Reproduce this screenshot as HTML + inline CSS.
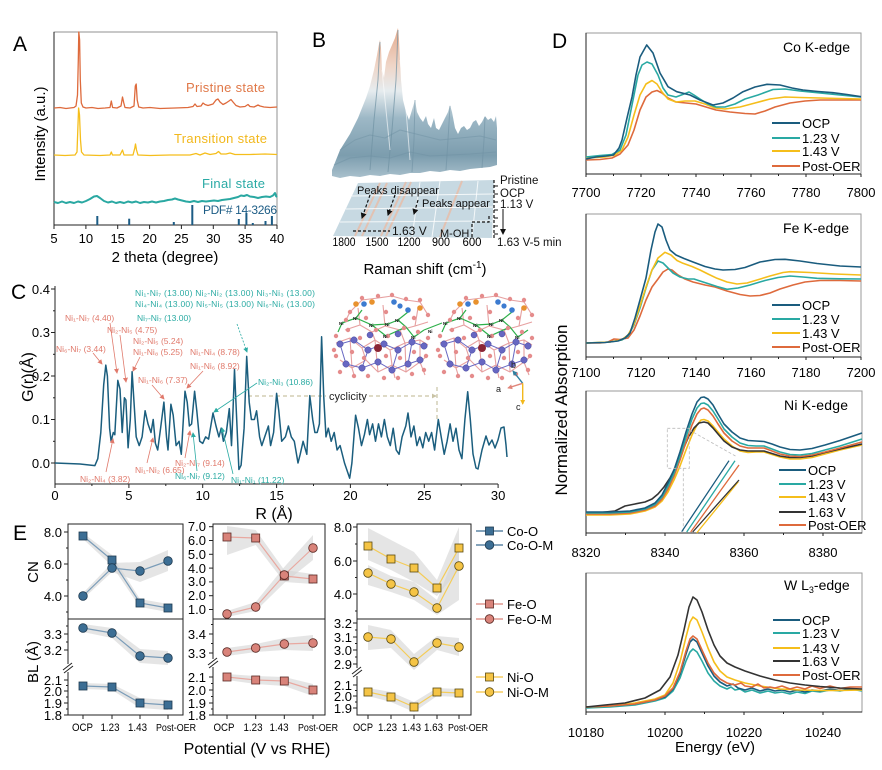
<!DOCTYPE html>
<html><head><meta charset="utf-8">
<style>
html,body{margin:0;padding:0;background:#fff;}
svg{display:block;font-family:"Liberation Sans",Arial,sans-serif;}
</style></head><body>
<svg width="882" height="770" viewBox="0 0 882 770" xmlns="http://www.w3.org/2000/svg">
<defs>
 <linearGradient id="gB" x1="0" y1="28" x2="0" y2="178" gradientUnits="userSpaceOnUse">
  <stop offset="0" stop-color="#E3A98C"/>
  <stop offset="0.25" stop-color="#EFD5C7"/>
  <stop offset="0.42" stop-color="#E6ECEF"/>
  <stop offset="0.6" stop-color="#9DB8C6"/>
  <stop offset="0.85" stop-color="#7C9DAE"/>
  <stop offset="1" stop-color="#A9C0CC"/>
 </linearGradient>
 <marker id="mS" viewBox="0 0 6 6" refX="5" refY="3" markerWidth="5" markerHeight="5" markerUnits="userSpaceOnUse" orient="auto"><path d="M0,0 L6,3 L0,6 z" fill="#E0796B"/></marker>
 <marker id="mT" viewBox="0 0 6 6" refX="5" refY="3" markerWidth="5" markerHeight="5" markerUnits="userSpaceOnUse" orient="auto"><path d="M0,0 L6,3 L0,6 z" fill="#2AABA3"/></marker>
 <marker id="mG" viewBox="0 0 6 6" refX="5" refY="3" markerWidth="5" markerHeight="5" markerUnits="userSpaceOnUse" orient="auto"><path d="M0,0 L6,3 L0,6 z" fill="#C9C3A5"/></marker>
 <marker id="mK" viewBox="0 0 6 6" refX="5" refY="3" markerWidth="6" markerHeight="6" markerUnits="userSpaceOnUse" orient="auto"><path d="M0,0 L6,3 L0,6 z" fill="#111"/></marker>
 <marker id="mb" viewBox="0 0 6 6" refX="5" refY="3" markerWidth="5" markerHeight="5" markerUnits="userSpaceOnUse" orient="auto"><path d="M0,0 L6,3 L0,6 z" fill="#2E7FA0"/></marker>
 <marker id="ma" viewBox="0 0 6 6" refX="5" refY="3" markerWidth="5" markerHeight="5" markerUnits="userSpaceOnUse" orient="auto"><path d="M0,0 L6,3 L0,6 z" fill="#E0857A"/></marker>
 <marker id="mc" viewBox="0 0 6 6" refX="5" refY="3" markerWidth="5" markerHeight="5" markerUnits="userSpaceOnUse" orient="auto"><path d="M0,0 L6,3 L0,6 z" fill="#F2B81C"/></marker>
</defs>
<rect width="882" height="770" fill="#fff"/>

<!-- ================= PANEL A ================= -->
<text x="13" y="51" font-size="21">A</text>
<rect x="54" y="32" width="223" height="193" fill="none" stroke="#777" stroke-width="0.8"/>
<line x1="54" y1="225" x2="277" y2="225" stroke="#222" stroke-width="1"/>
<line x1="54" y1="32" x2="54" y2="225" stroke="#222" stroke-width="1"/>
<g stroke="#222" stroke-width="1">
<line x1="54" y1="225" x2="54" y2="229"/><line x1="85.9" y1="225" x2="85.9" y2="229"/><line x1="117.7" y1="225" x2="117.7" y2="229"/><line x1="149.6" y1="225" x2="149.6" y2="229"/><line x1="181.4" y1="225" x2="181.4" y2="229"/><line x1="213.3" y1="225" x2="213.3" y2="229"/><line x1="245.1" y1="225" x2="245.1" y2="229"/><line x1="277" y1="225" x2="277" y2="229"/>
</g>
<g font-size="13" text-anchor="middle">
<text x="54" y="243">5</text><text x="85.9" y="243">10</text><text x="117.7" y="243">15</text><text x="149.6" y="243">20</text><text x="181.4" y="243">25</text><text x="213.3" y="243">30</text><text x="245.1" y="243">35</text><text x="277" y="243">40</text>
</g>
<text x="165" y="262" font-size="15" text-anchor="middle">2 theta (degree)</text>
<text transform="translate(45,134) rotate(-90)" font-size="15" text-anchor="middle">Intensity (a.u.)</text>
<polyline fill="none" stroke="#DE6A3C" stroke-width="1.3" stroke-linejoin="round" points="54,108 60,107.5 66,108.5 70,108 74,107.5 76,106 77.5,95 78.3,60 78.8,32 79.6,40 80.3,80 81.3,103 83,107 86,108 92,107.5 98,108.5 105,108 110,107.5 111.3,101 112.6,107.5 117,108 121,106 122.5,97 123.8,103 125,107.5 130,108 134,106 135.3,86 136.2,84 137.2,100 138.7,107 143,108 150,107.5 160,108.5 175,108 188,107.5 193,106.5 195,104 197,106.5 201,106 203,103 205,104.5 208,105.5 213,104 216,100 218,99 220,102 223,104.5 226,103 229,101 231,99.5 233,102 236,105.5 240,107 245,106.5 248,104.5 250,106.5 254,107 258,105 260,106 264,107 270,107.5 277,107"/>
<polyline fill="none" stroke="#F5BE1B" stroke-width="1.3" stroke-linejoin="round" points="54,155 65,155.5 75,155 77,152 77.8,130 78.6,108 79.5,115 80.5,140 81.5,152 84,155 100,155.5 110,155 111.3,152 112.5,155 120,155 122.5,150 124,155 133,155 134.8,148 135.5,144 136.5,150 138,155 150,155.5 170,155 190,155 196,153.5 200,155 205,153 210,154.5 216,153.5 218.5,151.5 221,154 226,154 230,153 235,154.5 250,154.5 265,154 277,154.5"/>
<polyline fill="none" stroke="#2AA8A2" stroke-width="2" stroke-linejoin="round" points="54,202 58,203 62,201.5 66,203 70,202 74,203 78,201.5 82,202.5 86,201 90,199 94,196.5 97,196 100,198 104,201 108,202.5 112,201.5 116,203 120,202 124,203 128,201.5 132,202.5 136,201.5 140,203 144,202 148,202.5 152,201.5 156,202.5 160,201.5 164,201 168,200 172,199.5 175,198.5 178,199.5 182,200.5 186,201.5 190,202 194,201 198,202 202,201 206,201.5 210,201 214,200.5 218,201 222,200 226,199.5 230,199 234,198 238,197 241,195.5 244,196 247,195 250,196.5 254,197 258,198 262,197 266,196.5 270,197 273,195.5 275,193 276,196 277,197"/>
<g stroke="#1C5C85" stroke-width="2">
<line x1="97.3" y1="225" x2="97.3" y2="216"/><line x1="129.2" y1="225" x2="129.2" y2="218.7"/><line x1="173.8" y1="225" x2="173.8" y2="222"/><line x1="192.3" y1="225" x2="192.3" y2="205"/><line x1="238.8" y1="225" x2="238.8" y2="219"/><line x1="246.4" y1="225" x2="246.4" y2="213"/><line x1="252.8" y1="225" x2="252.8" y2="223"/><line x1="265.5" y1="225" x2="265.5" y2="221"/><line x1="271.9" y1="225" x2="271.9" y2="216"/>
</g>
<text x="186" y="92" font-size="13" fill="#E07848" textLength="79">Pristine state</text>
<text x="174" y="143" font-size="13" fill="#F2B81C" textLength="93">Transition state</text>
<text x="202" y="188" font-size="13" fill="#2AAAA5" textLength="63">Final state</text>
<text x="203" y="214" font-size="12" fill="#1C5C85" textLength="74">PDF# 14-3266</text>

<!-- ================= PANEL B ================= -->
<text x="312" y="47" font-size="21">B</text>
<path fill="url(#gB)" d="M332,176 L332,170 L336,160 L340,150 L345,142 L350,134 L354,126 L358,118 L362,108 L366,98 L370,86 L374,70 L377,55 L379,44 L380,40 L381,48 L382,70 L384,78 L386,62 L389,52 L392,45 L395,38 L397,31 L398,28 L399,40 L401,80 L403,100 L406,112 L409,120 L412,110 L415,100 L417,112 L420,118 L423,122 L426,116 L428,124 L431,128 L434,118 L436,128 L439,130 L442,124 L445,118 L448,112 L450,105 L452,112 L455,128 L458,134 L461,128 L464,126 L467,130 L470,128 L473,122 L476,120 L479,126 L482,122 L485,116 L488,120 L491,118 L494,122 L496,116 L497,128 L497,165 L490,167 L480,168 L470,169 L460,171 L450,170 L440,172 L430,171 L420,173 L410,173 L400,175 L390,174 L380,176 L370,175 L360,177 L350,176 L340,178 Z"/>
<g fill="none" stroke-width="1" stroke-linejoin="round">
<polyline stroke="#6F91A3" stroke-opacity="0.7" points="380,42 378,80 374,120 370,170"/>
<polyline stroke="#6F91A3" stroke-opacity="0.7" points="398,30 396,80 392,130 388,172"/>
<polyline stroke="#FFFFFF" stroke-opacity="0.6" points="382,70 386,110 390,150"/>
<polyline stroke="#FFFFFF" stroke-opacity="0.6" points="400,60 406,110 410,160"/>
<polyline stroke="#6F91A3" stroke-opacity="0.6" points="415,100 414,140 412,172"/>
<polyline stroke="#6F91A3" stroke-opacity="0.6" points="450,106 448,140 446,170"/>
<polyline stroke="#6F91A3" stroke-opacity="0.6" points="485,117 484,140 482,168"/>
<polyline stroke="#6F91A3" stroke-opacity="0.5" points="340,150 355,140 370,135 385,138 400,130 420,135 440,140 460,138 480,136 496,140"/>
<polyline stroke="#6F91A3" stroke-opacity="0.5" points="334,165 350,158 370,156 390,158 410,152 430,156 450,155 470,154 496,152"/>
</g>
<polygon points="358,183 494,180 492,238 333,236" fill="#C7D9E2"/>
<g stroke="#E8BCA6" stroke-width="2" fill="none" stroke-opacity="0.8">
<line x1="380" y1="183" x2="355" y2="236"/><line x1="387" y1="183" x2="362" y2="236"/><line x1="406" y1="182" x2="381" y2="236"/><line x1="411" y1="182" x2="386" y2="236"/><line x1="462" y1="181" x2="440" y2="237"/>
</g>
<g stroke="#FFFFFF" stroke-width="1" stroke-opacity="0.8" fill="none">
<line x1="352" y1="196" x2="493" y2="194"/><line x1="346" y1="209" x2="493" y2="207"/><line x1="340" y1="222" x2="492" y2="221"/>
<line x1="420" y1="182" x2="412" y2="237"/><line x1="440" y1="181" x2="432" y2="237"/><line x1="478" y1="181" x2="472" y2="237"/>
</g>
<g stroke="#111" stroke-width="1.2" stroke-dasharray="3,2" fill="none">
<line x1="370" y1="195" x2="362" y2="218" marker-end="url(#mK)"/>
<line x1="395" y1="195" x2="388" y2="215" marker-end="url(#mK)"/>
<line x1="418" y1="200" x2="414" y2="214" marker-end="url(#mK)"/>
<line x1="353" y1="231" x2="390" y2="231"/>
<polyline points="472,237 472,222 489,222 489,216"/>
<line x1="494" y1="180" x2="494" y2="238"/>
</g>
<g stroke="#111" stroke-width="1">
<line x1="494" y1="186" x2="498" y2="186"/><line x1="494" y1="194" x2="498" y2="194"/><line x1="494" y1="202" x2="498" y2="202"/><line x1="494" y1="210" x2="498" y2="210"/><line x1="494" y1="218" x2="498" y2="218"/><line x1="494" y1="226" x2="498" y2="226"/><line x1="494" y1="234" x2="498" y2="234"/>
<line x1="503" y1="209" x2="503" y2="234" marker-end="url(#mK)"/>
</g>
<g font-size="11" fill="#111">
<text x="357" y="194">Peaks disappear</text>
<text x="422" y="207">Peaks appear</text>
<text x="392" y="235" font-size="12">1.63 V</text>
<text x="440" y="237">M-OH</text>
<text x="500" y="184" font-size="11.5">Pristine</text>
<text x="500" y="197" font-size="11.5">OCP</text>
<text x="500" y="208" font-size="11.5">1.13 V</text>
<text x="497" y="246" font-size="11.5">1.63 V-5 min</text>
</g>
<g font-size="12" text-anchor="middle">
<text x="344" y="246" textLength="23" lengthAdjust="spacingAndGlyphs">1800</text><text x="377" y="246" textLength="23" lengthAdjust="spacingAndGlyphs">1500</text><text x="409" y="246" textLength="23" lengthAdjust="spacingAndGlyphs">1200</text><text x="441" y="246" textLength="18" lengthAdjust="spacingAndGlyphs">900</text><text x="472" y="246" textLength="19" lengthAdjust="spacingAndGlyphs">600</text>
</g>
<text x="425" y="274" font-size="15" text-anchor="middle">Raman shift (cm<tspan font-size="10" dy="-6">-1</tspan><tspan dy="6">)</tspan></text>

<!-- ================= PANEL C ================= -->
<text x="11" y="299" font-size="21">C</text>
<g stroke="#222" stroke-width="1">
<line x1="55" y1="286" x2="55" y2="484"/>
<line x1="55" y1="484" x2="498" y2="484"/>
<line x1="51" y1="289" x2="55" y2="289"/><line x1="51" y1="332.5" x2="55" y2="332.5"/><line x1="51" y1="376" x2="55" y2="376"/><line x1="51" y1="419.5" x2="55" y2="419.5"/><line x1="51" y1="463" x2="55" y2="463"/>
<line x1="53" y1="310.8" x2="55" y2="310.8"/><line x1="53" y1="354.3" x2="55" y2="354.3"/><line x1="53" y1="397.8" x2="55" y2="397.8"/><line x1="53" y1="441.3" x2="55" y2="441.3"/>
<line x1="55" y1="484" x2="55" y2="488"/><line x1="128.9" y1="484" x2="128.9" y2="488"/><line x1="202.7" y1="484" x2="202.7" y2="488"/><line x1="276.6" y1="484" x2="276.6" y2="488"/><line x1="350.4" y1="484" x2="350.4" y2="488"/><line x1="424.3" y1="484" x2="424.3" y2="488"/><line x1="498.1" y1="484" x2="498.1" y2="488"/>
<line x1="91.9" y1="484" x2="91.9" y2="486"/><line x1="165.8" y1="484" x2="165.8" y2="486"/><line x1="239.6" y1="484" x2="239.6" y2="486"/><line x1="313.5" y1="484" x2="313.5" y2="486"/><line x1="387.4" y1="484" x2="387.4" y2="486"/><line x1="461.2" y1="484" x2="461.2" y2="486"/>
</g>
<g font-size="13" text-anchor="end">
<text x="50" y="294">0.4</text><text x="50" y="337">0.3</text><text x="50" y="381">0.2</text><text x="50" y="424">0.1</text><text x="50" y="468">0.0</text>
</g>
<g font-size="13" text-anchor="middle">
<text x="55" y="500">0</text><text x="128.9" y="500">5</text><text x="202.7" y="500">10</text><text x="276.6" y="500">15</text><text x="350.4" y="500">20</text><text x="424.3" y="500">25</text><text x="498.1" y="500">30</text>
</g>
<text x="274" y="519" font-size="16" text-anchor="middle">R (Å)</text>
<text transform="translate(33,377) rotate(-90)" font-size="16" text-anchor="middle">G(r)(Å)</text>
<g stroke="#C9C3A5" stroke-width="1.2" stroke-dasharray="4,3" fill="none">
<line x1="248" y1="396" x2="326" y2="396"/>
<line x1="369" y1="396" x2="436" y2="396" marker-end="url(#mG)"/>
<line x1="437" y1="387" x2="437" y2="420"/>
</g>
<text x="329" y="400" font-size="11" fill="#222">cyclicity</text>
<polyline fill="none" stroke="#1B5E7E" stroke-width="1.5" stroke-linejoin="round" points="55,463 80,464 94.9,465.6 97.8,458.7 100.8,432.5 103.7,384.7 105.8,365.1 107.4,376 109.6,428.2 111.1,441.3 113.3,432.5 114.8,434.7 117.8,380.4 120,389 122.2,432.5 124.4,397.8 125.9,400 128.1,447.8 130.3,419.5 132.1,371.7 134,402.1 136.2,436.9 139.2,445.6 142.1,436.9 145.1,410.8 148,423.9 151,432.5 153.2,419.5 155.4,443.4 157.7,450 160.6,428.2 163.9,402.1 166.5,436.9 168,450 170.9,404.3 173.2,415.2 176.1,445.6 179.1,441.3 181.3,454.3 185,391.2 187.2,402.1 189.4,426 191.6,423.9 194.6,391.2 196.8,410.8 199.7,441.3 202.7,443.4 205.6,436.9 208.6,439.1 213,413 216,426 218.9,436.9 221.2,428.2 223.4,441.3 226.3,432.5 229.3,408.6 231.5,445.6 233,410.8 234.5,369.5 236.7,419.5 238.9,469.5 241.1,465.2 244.1,428.2 246.7,356.4 249.2,402.1 251.4,419.5 254.4,419.5 256.6,410.8 259.6,436.9 261.8,445.6 264.7,436.9 268.4,426 270.6,445.6 273.6,432.5 276.6,393.4 278.8,410.8 281.7,441.3 285.4,436.9 288.4,426 291.3,436.9 294.3,441.3 298,463 300.2,454.3 303.1,441.3 306.8,454.3 309.8,395.6 312.7,419.5 314.9,432.5 317.2,432.5 319.4,423.9 321.6,336.8 323.8,397.8 326,436.9 328.3,428.2 331.2,441.3 334.2,432.5 337.1,450 340.1,445.6 344.5,463 349.7,478.2 351.9,463 355.6,415.2 358.5,428.2 361.5,445.6 364.4,434.7 367.4,419.5 369.6,434.7 372.6,423.9 375.5,441.3 378.5,423.9 381.4,436.9 384.4,419.5 387.3,436.9 390.3,445.6 393.2,428.2 396.2,450 399.1,454.3 402.1,436.9 405.8,426 408,413 411,436.9 413.9,426 416.9,445.6 419.8,436.9 422.8,447.8 425.7,432.5 428.7,441.3 431.6,432.5 434.6,450 438.3,419.5 441.2,436.9 444.2,454.3 447.1,441.3 450.1,423.9 453,441.3 456,428.2 459,450 461.9,458.7 464.9,419.5 467.7,391.7 470.3,419.5 473,454 476,468 478,469 482,450 486,436 489,445 492,440 495,448 498,440 501,428 504,427 506,445 507,457"/>
<g font-size="8.5" fill="#E0796B">
<text x="65" y="321">Ni₁-Ni₇ (4.40)</text>
<text x="107" y="333">Ni₂-Ni₅ (4.75)</text>
<text x="133" y="344">Ni₂-Ni₅ (5.24)</text>
<text x="56" y="352">Ni₆-Ni₇ (3.44)</text>
<text x="133" y="355">Ni₁-Ni₈ (5.25)</text>
<text x="190" y="355">Ni₁-Ni₄ (8.78)</text>
<text x="190" y="369">Ni₁-Ni₆ (8.92)</text>
<text x="138" y="383">Ni₁-Ni₆ (7.37)</text>
<text x="175" y="466">Ni₂-Ni₇ (9.14)</text>
<text x="135" y="473">Ni₁-Ni₂ (6.65)</text>
<text x="80" y="482">Ni₂-Ni₄ (3.82)</text>
</g>
<g font-size="8.5" fill="#2AABA3">
<text x="135" y="296" textLength="180">Ni₁-Ni₇ (13.00) Ni₂-Ni₂ (13.00) Ni₃-Ni₃ (13.00)</text>
<text x="135" y="307" textLength="180">Ni₄-Ni₄ (13.00) Ni₅-Ni₅ (13.00) Ni₆-Ni₆ (13.00)</text>
<text x="137" y="321">Ni₇-Ni₇ (13.00)</text>
<text x="258" y="385">Ni₂-Ni₃ (10.86)</text>
<text x="175" y="479">Ni₆-Ni₇ (9.12)</text>
<text x="231" y="483">Ni₁-Ni₁ (11.22)</text>
</g>
<g stroke="#E0796B" stroke-width="0.8" fill="none">
<line x1="93" y1="353" x2="102" y2="364" marker-end="url(#mS)"/>
<line x1="110" y1="323" x2="117" y2="373" marker-end="url(#mS)"/>
<line x1="120" y1="335" x2="126" y2="382" marker-end="url(#mS)"/>
<line x1="140" y1="357" x2="133" y2="371" marker-end="url(#mS)"/>
<line x1="152" y1="385" x2="164" y2="399" marker-end="url(#mS)"/>
<line x1="203" y1="371" x2="187" y2="388" marker-end="url(#mS)"/>
<line x1="106" y1="472" x2="113" y2="439" marker-end="url(#mS)"/>
<line x1="147" y1="463" x2="153" y2="438" marker-end="url(#mS)"/>
<line x1="185" y1="458" x2="190" y2="431" marker-end="url(#mS)"/>
</g>
<g stroke="#2AABA3" stroke-width="0.8" fill="none">
<line x1="237" y1="324" x2="247" y2="352" stroke-dasharray="2,1.5" marker-end="url(#mT)"/>
<line x1="257" y1="383" x2="214" y2="412" marker-end="url(#mT)"/>
<line x1="197" y1="471" x2="193" y2="433" marker-end="url(#mT)"/>
<line x1="233" y1="474" x2="222" y2="428" marker-end="url(#mT)"/>
</g>
<g id="clu">
<g stroke="#E6A0A0" stroke-width="1.1" fill="none">
<path d="M336,343 L350,338 L362,348 L375,340 L390,350 L405,343 L420,340 L428,345 M340,360 L352,368 L366,360 L378,372 L392,365 L406,372 L420,362 L428,355 M345,330 L360,325 L372,332 L385,326 L400,330 L415,326 L428,322 M350,338 L352,368 M366,360 L362,348 M378,372 L375,340 M392,365 L390,350 M406,372 L405,343 M420,362 L420,340 M360,325 L358,308 M385,326 L383,305 M415,326 L418,308 M372,332 L375,340 M400,330 L405,343 M352,368 L355,378 M392,365 L395,378 M420,362 L425,375 M350,312 L362,300 L378,298 L392,296 L406,300 L420,302 L428,315 M346,320 L350,312"/>
</g>
<g stroke="#6767C2" stroke-width="1" fill="none">
<path d="M340,344 L354,340 L368,350 L384,344 L398,350 L412,342 L424,346 M346,364 L362,368 L378,362 L392,370 L408,364 L420,360 M340,344 L346,364 M368,350 L362,368 M398,350 L392,370 M412,342 L408,364"/>
</g>
<g stroke="#2EB04A" stroke-width="1.2" fill="none">
<path d="M342,323 L356,318 L372,325 L388,324 L398,320 M372,325 L386,336 L406,327 L414,337 M356,318 L362,310 M398,320 L408,312 M414,337 L424,330 M342,323 L338,332 M406,327 L398,320"/>
</g>
<g fill="#6767C2" stroke="#44449A" stroke-width="0.5">
<circle cx="340" cy="344" r="3.2"/><circle cx="354" cy="340" r="3.2"/><circle cx="368" cy="350" r="3.2"/><circle cx="384" cy="344" r="3.2"/><circle cx="398" cy="350" r="3.2"/><circle cx="412" cy="342" r="3.2"/><circle cx="424" cy="346" r="3.2"/><circle cx="346" cy="364" r="3.2"/><circle cx="362" cy="368" r="3.2"/><circle cx="378" cy="362" r="3.2"/><circle cx="392" cy="370" r="3.2"/><circle cx="408" cy="364" r="3.2"/><circle cx="420" cy="360" r="3.2"/><circle cx="370" cy="335" r="3"/><circle cx="398" cy="334" r="3"/>
</g>
<circle cx="378" cy="348" r="4" fill="#8B2535"/>
<g fill="#E58C8C">
<circle cx="336" cy="336" r="2.2"/><circle cx="348" cy="330" r="2.2"/><circle cx="360" cy="338" r="2.2"/><circle cx="376" cy="330" r="2.2"/><circle cx="388" cy="336" r="2.2"/><circle cx="404" cy="328" r="2.2"/><circle cx="418" cy="332" r="2.2"/><circle cx="428" cy="338" r="2.2"/><circle cx="336" cy="356" r="2.2"/><circle cx="352" cy="352" r="2.2"/><circle cx="364" cy="358" r="2.2"/><circle cx="386" cy="356" r="2.2"/><circle cx="400" cy="358" r="2.2"/><circle cx="414" cy="352" r="2.2"/><circle cx="426" cy="356" r="2.2"/><circle cx="340" cy="372" r="2.2"/><circle cx="354" cy="376" r="2.2"/><circle cx="368" cy="376" r="2.2"/><circle cx="384" cy="378" r="2.2"/><circle cx="398" cy="378" r="2.2"/><circle cx="412" cy="374" r="2.2"/><circle cx="424" cy="370" r="2.2"/><circle cx="350" cy="312" r="2.2"/><circle cx="362" cy="298" r="2.2"/><circle cx="378" cy="296" r="2.2"/><circle cx="392" cy="295" r="2.2"/><circle cx="406" cy="299" r="2.2"/><circle cx="420" cy="300" r="2.2"/><circle cx="346" cy="320" r="2.2"/><circle cx="428" cy="315" r="2.2"/><circle cx="334" cy="350" r="2.2"/><circle cx="386" cy="312" r="2.2"/><circle cx="366" cy="318" r="2.2"/><circle cx="414" cy="318" r="2.2"/>
</g>
<g fill="#E8922E"><circle cx="356" cy="304" r="2.8"/><circle cx="372" cy="302" r="2.8"/><circle cx="420" cy="308" r="2.8"/></g>
<g fill="#3C7BD0"><circle cx="364" cy="304" r="2.8"/><circle cx="394" cy="302" r="2.8"/><circle cx="408" cy="310" r="2.8"/><circle cx="400" cy="306" r="2.6"/></g>
<g font-size="4.5" font-weight="bold" fill="#111">
<text x="339" y="325">Ni</text><text x="353" y="320">Ni</text><text x="369" y="327">Ni</text><text x="385" y="326">Ni</text><text x="395" y="322">Ni</text><text x="383" y="338">Ni</text><text x="411" y="339">Ni</text>
</g>
</g>
<use href="#clu" transform="translate(104,0)"/>
<line x1="424" y1="330" x2="442" y2="323" stroke="#2EB04A" stroke-width="1.2"/>
<g font-size="4.5" font-weight="bold" fill="#111"><text x="428" y="333">Ni</text></g>
<line x1="522.7" y1="383.3" x2="513" y2="371" stroke="#2E7FA0" stroke-width="1.4" marker-end="url(#mb)"/>
<line x1="522.7" y1="383.3" x2="508" y2="388" stroke="#E0857A" stroke-width="1.4" marker-end="url(#ma)"/>
<line x1="522.7" y1="383.3" x2="522.7" y2="404" stroke="#F2B81C" stroke-width="1.4" marker-end="url(#mc)"/>
<g font-size="9" fill="#222"><text x="511" y="368">b</text><text x="496" y="392">a</text><text x="516" y="410">c</text></g>

<!-- ================= PANEL D ================= -->
<text x="552" y="48" font-size="21">D</text>
<text transform="translate(567,410) rotate(-90)" font-size="17" text-anchor="middle">Normalized Absorption</text>
<rect x="586" y="33" width="275" height="141" fill="none" stroke="#999" stroke-width="1"/>
<line x1="586" y1="174" x2="861" y2="174" stroke="#222"/>
<line x1="586" y1="33" x2="586" y2="174" stroke="#222"/>
<g stroke="#222"><line x1="586" y1="174" x2="586" y2="177"/><line x1="641" y1="174" x2="641" y2="177"/><line x1="696" y1="174" x2="696" y2="177"/><line x1="751" y1="174" x2="751" y2="177"/><line x1="806" y1="174" x2="806" y2="177"/><line x1="861" y1="174" x2="861" y2="177"/><line x1="613.5" y1="174" x2="613.5" y2="176"/><line x1="668.5" y1="174" x2="668.5" y2="176"/><line x1="723.5" y1="174" x2="723.5" y2="176"/><line x1="778.5" y1="174" x2="778.5" y2="176"/><line x1="833.5" y1="174" x2="833.5" y2="176"/></g>
<g font-size="13" text-anchor="middle"><text x="586" y="197">7700</text><text x="641" y="197">7720</text><text x="696" y="197">7740</text><text x="751" y="197">7760</text><text x="806" y="197">7780</text><text x="861" y="197">7800</text></g>
<text x="783" y="52" font-size="14" textLength="67">Co K-edge</text>
<g fill="none" stroke-width="1.6" stroke-linejoin="round">
<polyline stroke="#DE6A3C" points="586,160 600,159.5 612,158 620,154 628,145 634,130 640,110 646,97 652,92 657,90.5 662,93 668,98 676,102 686,103 696,104 706,107 716,110 730,112 745,113.5 755,114 765,111 775,107 790,103 805,101 820,100 840,100 861,100"/>
<polyline stroke="#F5BE1B" points="586,158 605,157 615,155 622,150 628,137 634,115 640,95 646,84 652,80.5 657,84 662,92 668,99 676,102 685,101 695,101 705,104 715,108 725,109 740,107 755,103 770,99 785,97 800,97.5 820,98 840,98.5 861,99"/>
<polyline stroke="#29A9A3" points="586,157 600,155.5 612,154.5 620,150 626,135 632,105 638,75 642,65 647,62 652,64 658,75 663,88 668,95 676,97 684,94 689,92 694,95 700,99 708,104 716,107 725,107 735,104 745,99 758,95 773,89.5 785,89 800,91 820,93 840,95 861,97"/>
<polyline stroke="#1A5C7E" points="586,159 596,157 606,156 613.5,155 619,148 622,140 627,118 632,97 636,75 640,57 646.7,45 653,53 660,73 668,86.7 676.7,91.7 690,95 700,100 713,105 723,103 733,98 743,91.7 755,87 767,84.3 780,85 792,88 803,90 818,91.5 833,92.7 847,94.5 861,96.7"/>
</g>
<g stroke-width="2"><line x1="772" y1="123" x2="800" y2="123" stroke="#1A5C7E"/><line x1="772" y1="138" x2="800" y2="138" stroke="#29A9A3"/><line x1="772" y1="151" x2="800" y2="151" stroke="#F5BE1B"/><line x1="772" y1="166" x2="800" y2="166" stroke="#DE6A3C"/></g>
<g font-size="13"><text x="802" y="128">OCP</text><text x="802" y="143">1.23 V</text><text x="802" y="156">1.43 V</text><text x="802" y="171">Post-OER</text></g>

<rect x="586" y="214" width="275" height="143" fill="none" stroke="#999" stroke-width="1"/>
<line x1="586" y1="357" x2="861" y2="357" stroke="#222"/>
<line x1="586" y1="214" x2="586" y2="357" stroke="#222"/>
<g stroke="#222"><line x1="586" y1="357" x2="586" y2="360"/><line x1="641" y1="357" x2="641" y2="360"/><line x1="696" y1="357" x2="696" y2="360"/><line x1="751" y1="357" x2="751" y2="360"/><line x1="806" y1="357" x2="806" y2="360"/><line x1="861" y1="357" x2="861" y2="360"/><line x1="613.5" y1="357" x2="613.5" y2="359"/><line x1="668.5" y1="357" x2="668.5" y2="359"/><line x1="723.5" y1="357" x2="723.5" y2="359"/><line x1="778.5" y1="357" x2="778.5" y2="359"/><line x1="833.5" y1="357" x2="833.5" y2="359"/></g>
<g font-size="13" text-anchor="middle"><text x="586" y="377">7100</text><text x="641" y="377">7120</text><text x="696" y="377">7140</text><text x="751" y="377">7160</text><text x="806" y="377">7180</text><text x="861" y="377">7200</text></g>
<text x="783" y="233" font-size="14" textLength="66">Fe K-edge</text>
<g fill="none" stroke-width="1.6" stroke-linejoin="round">
<polyline stroke="#DE6A3C" points="586,343 600,343 608,342 614,339 620,339.5 628,338 634,330 640,316 646,300 652,287 658,279 663,272 668,269 672,270 678,275 685,279 693,282 705,285 715,287 727,291 740,294.5 750,296 760,295.5 770,293 780,289 793,285 805,282 820,280.5 840,280.5 861,281"/>
<polyline stroke="#29A9A3" points="586,343 610,342 622,340 628,336 634,325 640,308 646,288 652,270 658,261 663,263 668,268 673,273 680,277 688,279 694,279 700,281 707,283.3 717,286.5 727,289.3 738,288 750,285 765,280.5 778,277.5 790,276 803,277 817,278.3 840,278.8 861,279"/>
<polyline stroke="#F5BE1B" points="586,343 610,342 622,339.5 628,335 634,324 640,306 646,287 652,270 658,258 665,252.3 671,255 677,260.5 683,263.3 692,266.5 700,270 708,274 717,278.3 727,282 737,284 747,283 757,280 770,276 783,272.5 790,271.7 810,272.5 835,274 861,275"/>
<polyline stroke="#1A5C7E" points="586,343 605,342.5 618,341 625,338 630,333 635,318 640,300 646,278 651,250 655,232 658,224 662,227 666,240 670,250 676,255 684,258.5 693,262 705,266.5 715,269 723,270 735,269.5 745,267.5 760,262 775,259.5 785,259.3 800,261 817,263.5 840,266 861,267"/>
</g>
<g stroke-width="2"><line x1="772" y1="305" x2="800" y2="305" stroke="#1A5C7E"/><line x1="772" y1="319" x2="800" y2="319" stroke="#29A9A3"/><line x1="772" y1="333" x2="800" y2="333" stroke="#F5BE1B"/><line x1="772" y1="347" x2="800" y2="347" stroke="#DE6A3C"/></g>
<g font-size="13"><text x="802" y="310">OCP</text><text x="802" y="324">1.23 V</text><text x="802" y="338">1.43 V</text><text x="802" y="352">Post-OER</text></g>

<rect x="586" y="391" width="276" height="142" fill="none" stroke="#999" stroke-width="1"/>
<line x1="586" y1="533" x2="862" y2="533" stroke="#222"/>
<line x1="586" y1="391" x2="586" y2="533" stroke="#222"/>
<g stroke="#222"><line x1="586" y1="533" x2="586" y2="536"/><line x1="665" y1="533" x2="665" y2="536"/><line x1="744" y1="533" x2="744" y2="536"/><line x1="823" y1="533" x2="823" y2="536"/><line x1="625.5" y1="533" x2="625.5" y2="535"/><line x1="704.5" y1="533" x2="704.5" y2="535"/><line x1="783.5" y1="533" x2="783.5" y2="535"/></g>
<g font-size="13" text-anchor="middle"><text x="586" y="557">8320</text><text x="665" y="557">8340</text><text x="744" y="557">8360</text><text x="823" y="557">8380</text></g>
<text x="784" y="410" font-size="14" textLength="64">Ni K-edge</text>
<g fill="none" stroke-width="1.6" stroke-linejoin="round">
<polyline stroke="#F5BE1B" points="586,515 610,515 630,514 645,511 655,507 662,501 668,492 674,480 680,466 686,450 692,435 697,425 701,420 704,419.5 708,421 713,426 718,432 724,439 732,446 740,451 748,452.5 756,452 764,452 772,454.5 780,457 790,459 800,459 812,457.5 825,454 840,450 862,445"/>
<polyline stroke="#333333" points="586,513 600,512.5 615,511 625,506 635,504 645,502 652,499 658,494 664,487 670,478 676,466 682,452 688,438 694,428 699,423 704,422 708,423 713,428 718,434 724,441 732,447 740,450 748,451 756,451 764,451 772,453.5 780,456 790,457.5 800,457.5 812,456 825,452.5 840,449 862,444"/>
<polyline stroke="#DE6A3C" points="586,514 610,514 630,513 645,510 655,506 662,499 668,489 674,476 680,460 686,442 692,425 697,414 701,409 704,408 708,410 713,416 718,424 724,433 732,441 740,446 748,448 756,448 764,448 772,451 780,454 790,456 800,456.5 812,455 825,452 840,448 862,442"/>
<polyline stroke="#29A9A3" points="586,513 610,513 630,512 645,509 655,504.5 662,497 668,486 674,473 680,456 686,437 692,419 697,408 701,403.5 704,403 708,405 713,411 718,419 724,429 732,437 740,443 748,445.5 756,446 764,446 772,449 780,452 790,454.5 800,455 812,453.5 825,450 840,446 862,439"/>
<polyline stroke="#1A5C7E" points="586,512 610,512 630,511 645,508 655,503 662,495 668,483 674,470 680,452 686,432 692,414 697,402 701,397.5 704,397 708,399 713,405 718,414 724,424 732,432 740,438 748,440.5 756,441 764,441.5 772,444 780,447 790,449.5 800,450 812,448.5 825,445 840,440.5 862,433"/>
</g>
<g fill="none" stroke="#BBBBBB" stroke-width="0.8" stroke-dasharray="3,2">
<rect x="667.3" y="428.3" width="22" height="40"/>
<line x1="689.3" y1="430" x2="736.7" y2="456.7"/>
<line x1="683.3" y1="468.3" x2="683.3" y2="531.7"/>
</g>
<g stroke-width="1.3">
<line x1="681.7" y1="531.7" x2="729" y2="460.7" stroke="#1A5C7E"/>
<line x1="686.7" y1="532" x2="735" y2="460.7" stroke="#29A9A3"/>
<line x1="690.7" y1="532" x2="739" y2="465" stroke="#DE6A3C"/>
<line x1="696.7" y1="533" x2="738.3" y2="481.7" stroke="#F5BE1B"/>
<line x1="692.7" y1="532" x2="739" y2="480" stroke="#333"/>
</g>
<g stroke-width="2"><line x1="779" y1="470" x2="806" y2="470" stroke="#1A5C7E"/><line x1="779" y1="484" x2="806" y2="484" stroke="#29A9A3"/><line x1="779" y1="497" x2="806" y2="497" stroke="#F5BE1B"/><line x1="779" y1="512" x2="806" y2="512" stroke="#333"/><line x1="779" y1="525" x2="806" y2="525" stroke="#DE6A3C"/></g>
<g font-size="13"><text x="808" y="475">OCP</text><text x="808" y="489">1.23 V</text><text x="808" y="502">1.43 V</text><text x="808" y="517">1.63 V</text><text x="808" y="530">Post-OER</text></g>

<rect x="586" y="573" width="276" height="139" fill="none" stroke="#999" stroke-width="1"/>
<line x1="586" y1="712" x2="862" y2="712" stroke="#222"/>
<line x1="586" y1="573" x2="586" y2="712" stroke="#222"/>
<g stroke="#222"><line x1="586" y1="712" x2="586" y2="715"/><line x1="665" y1="712" x2="665" y2="715"/><line x1="744" y1="712" x2="744" y2="715"/><line x1="823" y1="712" x2="823" y2="715"/><line x1="625.5" y1="712" x2="625.5" y2="714"/><line x1="704.5" y1="712" x2="704.5" y2="714"/><line x1="783.5" y1="712" x2="783.5" y2="714"/></g>
<g font-size="13" text-anchor="middle"><text x="586" y="737">10180</text><text x="665" y="737">10200</text><text x="744" y="737">10220</text><text x="823" y="737">10240</text></g>
<text x="715" y="752" font-size="15" text-anchor="middle">Energy (eV)</text>
<text x="784" y="590" font-size="14">W L<tspan font-size="9" dy="3">3</tspan><tspan dy="-3">-edge</tspan></text>
<g fill="none" stroke-width="1.6" stroke-linejoin="round">
<polyline stroke="#29A9A3" points="586,708 610,707 635,705 655,701 665,698 673,691 680,678 686,661 690,652 693,649 697,652 702,661 708,673 714,681 720,686 727,689 731,687 735,690 740,689 745,692 752,690 760,693 768,691 775,693 782,692 790,694 797,692 805,693.5 812,691 820,692 830,690 840,691 850,689 862,691"/>
<polyline stroke="#1A5C7E" points="586,707 610,706 635,704 655,700 665,697 673,689 680,674 686,654 690,642 693,639 697,642 702,653 708,666 714,676 720,682 727,686 733,684 738,688 745,690 752,688 760,691 768,689 775,691 782,690 790,692 797,690 805,692 812,690 820,691 830,689 840,690.5 850,689 862,690"/>
<polyline stroke="#F5BE1B" points="586,707 610,706 635,703 655,699 665,695 673,683 680,662 686,637 690,622 693,617 697,620 702,632 708,648 714,662 720,671 727,677 735,680 745,683 760,686 780,689 800,690 820,690.5 840,690.5 862,690"/>
<polyline stroke="#DE6A3C" points="586,707 610,706 635,704 655,700 665,696 673,688 680,672 686,651 690,639 693,636 697,639 702,650 708,663 714,673 720,679 727,683 735,685 741,683 745,686 752,687 758,684 764,688 770,687 775,688 782,686 790,689 797,687 805,689 812,686 820,688.5 830,686 840,688.5 850,687 862,687"/>
<polyline stroke="#333333" points="586,707 605,705 625,703 645,698 660,690 670,677 678,655 684,630 689,607 693,597 697,600 702,612 708,630 714,645 720,656 727,663 735,667 745,671 760,676 775,680 790,683 805,685 820,686.5 840,688 862,689"/>
</g>
<g stroke-width="2"><line x1="773" y1="620" x2="800" y2="620" stroke="#1A5C7E"/><line x1="773" y1="633" x2="800" y2="633" stroke="#29A9A3"/><line x1="773" y1="648" x2="800" y2="648" stroke="#F5BE1B"/><line x1="773" y1="661" x2="800" y2="661" stroke="#333"/><line x1="773" y1="675" x2="800" y2="675" stroke="#DE6A3C"/></g>
<g font-size="13"><text x="802" y="625">OCP</text><text x="802" y="638">1.23 V</text><text x="802" y="653">1.43 V</text><text x="802" y="666">1.63 V</text><text x="802" y="680">Post-OER</text></g>

<!-- ================= PANEL E ================= -->
<text x="13" y="540" font-size="21">E</text>
<text transform="translate(38,572) rotate(-90)" font-size="15" text-anchor="middle">CN</text>
<text transform="translate(38,662) rotate(-90)" font-size="15" text-anchor="middle">BL (Å)</text>
<text x="257" y="754" font-size="16" text-anchor="middle">Potential (V vs RHE)</text>

<g fill="#D4D4D4" fill-opacity="0.6">
<polygon points="83,533 112,555 140,599 168,604 168,612 140,607 112,566 83,539"/>
<polygon points="83,593 112,563 140,562 168,550 168,571 140,582 112,572 83,599"/>
<polygon points="83,624 112,628 140,649 168,651 168,665 140,663 112,638 83,632"/>
<polygon points="83,683 112,684 140,698 168,700 168,710 140,708 112,690 83,689"/>
<polygon points="227,526 255.7,530 284.3,570 313,574 313,584 284.3,582 255.7,545 227,555"/>
<polygon points="227,611 255.7,602 284.3,567 313,535 313,560 284.3,583 255.7,611 227,617"/>
<polygon points="227,648 255.7,644 284.3,638 313,635 313,651 284.3,650 255.7,652 227,656"/>
<polygon points="227,674 255.7,676 284.3,677 313,684 313,696 284.3,686 255.7,684 227,680"/>
<polygon points="368,528 391,540 414,552 437,580 459,527 459,570 437,596 414,582 391,570 368,560"/>
<polygon points="368,565 391,576 414,582 437,600 459,545 459,600 437,615 414,600 391,592 368,585"/>
<polygon points="368,625 391,630 414,654 437,636 459,638 459,656 437,650 414,670 391,648 368,650"/>
<polygon points="368,688 391,692 414,702 437,688 459,689 459,697 437,696 414,712 391,702 368,696"/>
</g>

<g fill="none" stroke="#222" stroke-width="1">
<rect x="68" y="524" width="115" height="191"/><line x1="68" y1="619" x2="183" y2="619"/>
<rect x="213" y="524" width="112" height="191"/><line x1="213" y1="619" x2="325" y2="619"/>
<rect x="357" y="524" width="114" height="191"/><line x1="357" y1="619" x2="471" y2="619"/>
</g>
<g stroke="#222" stroke-width="1">
<rect x="64" y="664" width="8" height="8" fill="#fff" stroke="none"/>
<line x1="63" y1="670" x2="72" y2="663"/><line x1="64" y1="673" x2="73" y2="666"/>
<rect x="209" y="659" width="8" height="8" fill="#fff" stroke="none"/>
<line x1="208" y1="665" x2="217" y2="658"/><line x1="209" y1="668" x2="218" y2="661"/>
<rect x="353" y="668" width="8" height="8" fill="#fff" stroke="none"/>
<line x1="352" y1="674" x2="361" y2="667"/><line x1="353" y1="677" x2="362" y2="670"/>
</g>
<g stroke="#222" stroke-width="1">
<line x1="64" y1="532" x2="68" y2="532"/><line x1="64" y1="564" x2="68" y2="564"/><line x1="64" y1="596" x2="68" y2="596"/><line x1="66" y1="548" x2="68" y2="548"/><line x1="66" y1="580" x2="68" y2="580"/><line x1="66" y1="612" x2="68" y2="612"/>
<line x1="64" y1="634" x2="68" y2="634"/><line x1="64" y1="650" x2="68" y2="650"/><line x1="66" y1="626" x2="68" y2="626"/><line x1="66" y1="642" x2="68" y2="642"/>
<line x1="64" y1="680" x2="68" y2="680"/><line x1="64" y1="691" x2="68" y2="691"/><line x1="64" y1="703" x2="68" y2="703"/><line x1="64" y1="715" x2="68" y2="715"/><line x1="66" y1="685.5" x2="68" y2="685.5"/><line x1="66" y1="697" x2="68" y2="697"/><line x1="66" y1="709" x2="68" y2="709"/>
<line x1="209" y1="526.7" x2="213" y2="526.7"/><line x1="209" y1="540.5" x2="213" y2="540.5"/><line x1="209" y1="554.3" x2="213" y2="554.3"/><line x1="209" y1="568.1" x2="213" y2="568.1"/><line x1="209" y1="581.9" x2="213" y2="581.9"/><line x1="209" y1="595.7" x2="213" y2="595.7"/><line x1="209" y1="609.5" x2="213" y2="609.5"/>
<line x1="209" y1="634" x2="213" y2="634"/><line x1="209" y1="653" x2="213" y2="653"/><line x1="211" y1="643.5" x2="213" y2="643.5"/><line x1="211" y1="624.5" x2="213" y2="624.5"/>
<line x1="209" y1="677" x2="213" y2="677"/><line x1="209" y1="690" x2="213" y2="690"/><line x1="209" y1="703" x2="213" y2="703"/><line x1="209" y1="715" x2="213" y2="715"/><line x1="211" y1="683.5" x2="213" y2="683.5"/><line x1="211" y1="696.5" x2="213" y2="696.5"/><line x1="211" y1="709" x2="213" y2="709"/>
<line x1="353" y1="527" x2="357" y2="527"/><line x1="353" y1="561" x2="357" y2="561"/><line x1="353" y1="594" x2="357" y2="594"/><line x1="355" y1="544" x2="357" y2="544"/><line x1="355" y1="577.5" x2="357" y2="577.5"/><line x1="355" y1="611" x2="357" y2="611"/>
<line x1="353" y1="623" x2="357" y2="623"/><line x1="353" y1="637" x2="357" y2="637"/><line x1="353" y1="650" x2="357" y2="650"/><line x1="353" y1="664" x2="357" y2="664"/><line x1="355" y1="630" x2="357" y2="630"/><line x1="355" y1="643.5" x2="357" y2="643.5"/><line x1="355" y1="657" x2="357" y2="657"/>
<line x1="353" y1="685" x2="357" y2="685"/><line x1="353" y1="696" x2="357" y2="696"/><line x1="353" y1="708" x2="357" y2="708"/><line x1="355" y1="690.5" x2="357" y2="690.5"/><line x1="355" y1="702" x2="357" y2="702"/>
<line x1="83" y1="715" x2="83" y2="719"/><line x1="112" y1="715" x2="112" y2="719"/><line x1="140" y1="715" x2="140" y2="719"/><line x1="168" y1="715" x2="168" y2="719"/>
<line x1="227" y1="715" x2="227" y2="719"/><line x1="255.7" y1="715" x2="255.7" y2="719"/><line x1="284.3" y1="715" x2="284.3" y2="719"/><line x1="313" y1="715" x2="313" y2="719"/>
<line x1="368" y1="715" x2="368" y2="719"/><line x1="391" y1="715" x2="391" y2="719"/><line x1="414" y1="715" x2="414" y2="719"/><line x1="437" y1="715" x2="437" y2="719"/><line x1="459" y1="715" x2="459" y2="719"/>
</g>
<g font-size="13" text-anchor="end">
<text x="62" y="537">8.0</text><text x="62" y="569">6.0</text><text x="62" y="601">4.0</text>
<text x="62" y="639">3.3</text><text x="62" y="655">3.2</text>
<text x="62" y="685">2.1</text><text x="62" y="696">2.0</text><text x="62" y="708">1.9</text><text x="62" y="720">1.8</text>
<text x="206" y="531">7.0</text><text x="206" y="545">6.0</text><text x="206" y="559">5.0</text><text x="206" y="573">4.0</text><text x="206" y="586">3.0</text><text x="206" y="600">2.0</text><text x="206" y="614">1.0</text>
<text x="206" y="639">3.4</text><text x="206" y="658">3.3</text>
<text x="206" y="682">2.1</text><text x="206" y="695">2.0</text><text x="206" y="708">1.9</text><text x="206" y="720">1.8</text>
<text x="352" y="532">8.0</text><text x="352" y="566">6.0</text><text x="352" y="599">4.0</text>
<text x="352" y="628">3.2</text><text x="352" y="642">3.1</text><text x="352" y="655">3.0</text><text x="352" y="669">2.9</text>
<text x="352" y="690">2.1</text><text x="352" y="701">2.0</text><text x="352" y="713">1.9</text>
</g>
<g font-size="11" text-anchor="middle" lengthAdjust="spacingAndGlyphs">
<text x="82.5" y="731" textLength="21" lengthAdjust="spacingAndGlyphs">OCP</text><text x="110" y="731" textLength="19" lengthAdjust="spacingAndGlyphs">1.23</text><text x="137.5" y="731" textLength="19" lengthAdjust="spacingAndGlyphs">1.43</text><text x="176" y="731" font-size="10" textLength="40" lengthAdjust="spacingAndGlyphs">Post-OER</text>
<text x="224" y="731" textLength="21" lengthAdjust="spacingAndGlyphs">OCP</text><text x="253" y="731" textLength="19" lengthAdjust="spacingAndGlyphs">1.23</text><text x="279" y="731" textLength="19" lengthAdjust="spacingAndGlyphs">1.43</text><text x="318" y="731" font-size="10" textLength="40" lengthAdjust="spacingAndGlyphs">Post-OER</text>
<text x="363" y="731" textLength="20" lengthAdjust="spacingAndGlyphs">OCP</text><text x="387.5" y="731" textLength="19" lengthAdjust="spacingAndGlyphs">1.23</text><text x="411.5" y="731" textLength="19" lengthAdjust="spacingAndGlyphs">1.43</text><text x="433.5" y="731" textLength="19" lengthAdjust="spacingAndGlyphs">1.63</text><text x="468" y="731" font-size="10" textLength="40" lengthAdjust="spacingAndGlyphs">Post-OER</text>
</g>
<g fill="none" stroke-width="1.2">
<polyline stroke="#7A9CB8" points="83,536 112,560 140,603 168,608"/>
<polyline stroke="#7A9CB8" points="83,596 112,568 140,571 168,561"/>
<polyline stroke="#7A9CB8" points="83,628 112,633 140,656 168,658"/>
<polyline stroke="#7A9CB8" points="83,686 112,687 140,703 168,705"/>
<polyline stroke="#E8A8A0" points="227,537 255.7,538 284.3,576 313,579"/>
<polyline stroke="#E8A8A0" points="227,614 255.7,607 284.3,575 313,548"/>
<polyline stroke="#E8A8A0" points="227,652 255.7,648 284.3,644 313,643"/>
<polyline stroke="#E8A8A0" points="227,677 255.7,680 284.3,681 313,690"/>
<polyline stroke="#F4CC58" points="368,546 391,559 414,568 437,588 459,548"/>
<polyline stroke="#F4CC58" points="368,573 391,584 414,592 437,608 459,566"/>
<polyline stroke="#F4CC58" points="368,637 391,639 414,662 437,643 459,647"/>
<polyline stroke="#F4CC58" points="368,692 391,697 414,707 437,692 459,693"/>
</g>
<g fill="#3C6E94" stroke="#1E3A50" stroke-width="0.8">
<rect x="79" y="532" width="8" height="8"/><rect x="108" y="556" width="8" height="8"/><rect x="136" y="599" width="8" height="8"/><rect x="164" y="604" width="8" height="8"/>
<circle cx="83" cy="596" r="4.3"/><circle cx="112" cy="568" r="4.3"/><circle cx="140" cy="571" r="4.3"/><circle cx="168" cy="561" r="4.3"/>
<circle cx="83" cy="628" r="4.3"/><circle cx="112" cy="633" r="4.3"/><circle cx="140" cy="656" r="4.3"/><circle cx="168" cy="658" r="4.3"/>
<rect x="79" y="682" width="8" height="8"/><rect x="108" y="683" width="8" height="8"/><rect x="136" y="699" width="8" height="8"/><rect x="164" y="701" width="8" height="8"/>
</g>
<g fill="#D9837A" stroke="#5A2A25" stroke-width="0.8">
<rect x="223" y="533" width="8" height="8"/><rect x="251.7" y="534" width="8" height="8"/><rect x="280.3" y="572" width="8" height="8"/><rect x="309" y="575" width="8" height="8"/>
<circle cx="227" cy="614" r="4.3"/><circle cx="255.7" cy="607" r="4.3"/><circle cx="284.3" cy="575" r="4.3"/><circle cx="313" cy="548" r="4.3"/>
<circle cx="227" cy="652" r="4.3"/><circle cx="255.7" cy="648" r="4.3"/><circle cx="284.3" cy="644" r="4.3"/><circle cx="313" cy="643" r="4.3"/>
<rect x="223" y="673" width="8" height="8"/><rect x="251.7" y="676" width="8" height="8"/><rect x="280.3" y="677" width="8" height="8"/><rect x="309" y="686" width="8" height="8"/>
</g>
<g fill="#F5C445" stroke="#5A4A10" stroke-width="0.8">
<rect x="364" y="542" width="8" height="8"/><rect x="387" y="555" width="8" height="8"/><rect x="410" y="564" width="8" height="8"/><rect x="433" y="584" width="8" height="8"/><rect x="455" y="544" width="8" height="8"/>
<circle cx="368" cy="573" r="4.3"/><circle cx="391" cy="584" r="4.3"/><circle cx="414" cy="592" r="4.3"/><circle cx="437" cy="608" r="4.3"/><circle cx="459" cy="566" r="4.3"/>
<circle cx="368" cy="637" r="4.3"/><circle cx="391" cy="639" r="4.3"/><circle cx="414" cy="662" r="4.3"/><circle cx="437" cy="643" r="4.3"/><circle cx="459" cy="647" r="4.3"/>
<rect x="364" y="688" width="8" height="8"/><rect x="387" y="693" width="8" height="8"/><rect x="410" y="703" width="8" height="8"/><rect x="433" y="688" width="8" height="8"/><rect x="455" y="689" width="8" height="8"/>
</g>
<g stroke-width="1.2">
<line x1="476" y1="531" x2="503" y2="531" stroke="#3C6E94"/><line x1="476" y1="545" x2="503" y2="545" stroke="#3C6E94"/>
<line x1="476" y1="604" x2="503" y2="604" stroke="#D9837A"/><line x1="476" y1="619" x2="503" y2="619" stroke="#D9837A"/>
<line x1="476" y1="677" x2="503" y2="677" stroke="#F5C445"/><line x1="476" y1="692" x2="503" y2="692" stroke="#F5C445"/>
</g>
<rect x="485.5" y="527" width="8" height="8" fill="#3C6E94" stroke="#1E3A50" stroke-width="0.8"/>
<circle cx="489.5" cy="545" r="4.3" fill="#3C6E94" stroke="#1E3A50" stroke-width="0.8"/>
<rect x="485.5" y="600" width="8" height="8" fill="#D9837A" stroke="#5A2A25" stroke-width="0.8"/>
<circle cx="489.5" cy="619" r="4.3" fill="#D9837A" stroke="#5A2A25" stroke-width="0.8"/>
<rect x="485.5" y="673" width="8" height="8" fill="#F5C445" stroke="#5A4A10" stroke-width="0.8"/>
<circle cx="489.5" cy="692" r="4.3" fill="#F5C445" stroke="#5A4A10" stroke-width="0.8"/>
<g font-size="13">
<text x="507" y="536">Co-O</text><text x="507" y="550">Co-O-M</text>
<text x="507" y="609">Fe-O</text><text x="507" y="624">Fe-O-M</text>
<text x="507" y="682">Ni-O</text><text x="507" y="697">Ni-O-M</text>
</g>
</svg>
</body></html>
